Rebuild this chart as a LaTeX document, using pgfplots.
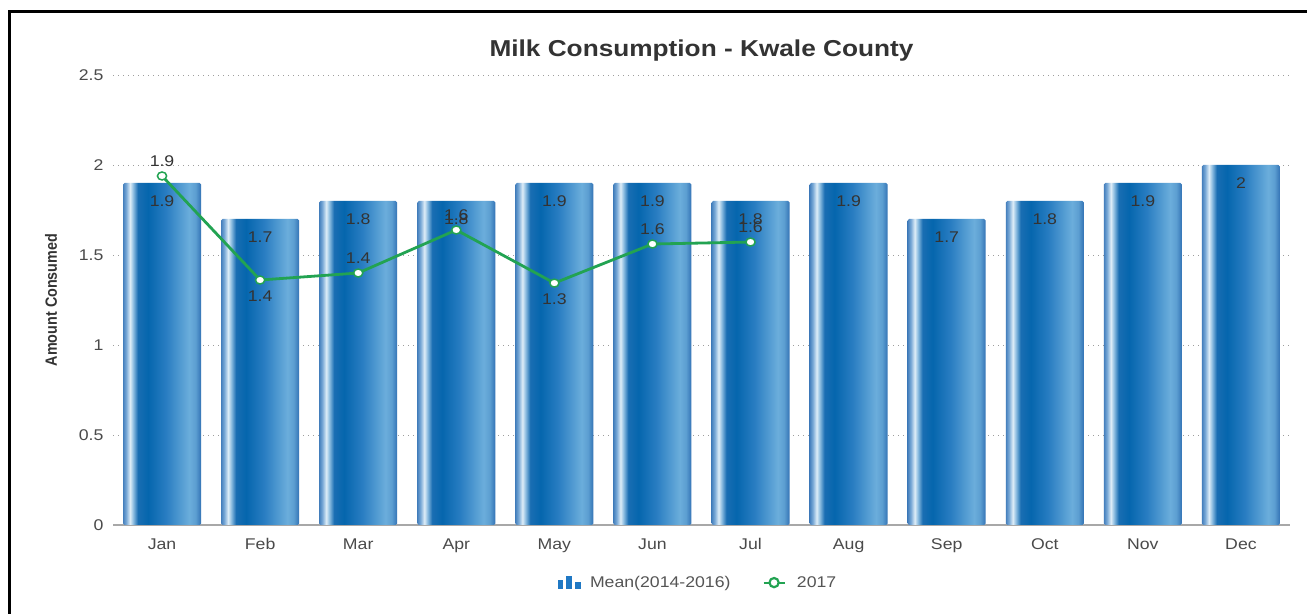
\documentclass[border=0pt]{standalone}
\usepackage{pgfplots}
\pgfplotsset{compat=1.18}
\usepackage{fontspec}
\setmainfont{Liberation Sans}[FakeStretch=1.14]
\newfontfamily\ylabfont{Liberation Sans}[FakeStretch=0.88]
\definecolor{gridgray}{HTML}{9E9E9E}
\definecolor{axisgray}{HTML}{A8A8A8}
\definecolor{ticktext}{HTML}{4A4A4A}
\definecolor{lbltext}{HTML}{333333}
\definecolor{legtext}{HTML}{555555}
\definecolor{linegreen}{HTML}{22A352}
\definecolor{legblue}{HTML}{1F78C4}
\pgfdeclarehorizontalshading{barshade}{100bp}{%
 rgb(0bp)=(0.27,0.50,0.74);
 rgb(25bp)=(0.27,0.50,0.74);
 rgb(27bp)=(0.47,0.66,0.84);
 rgb(29.5bp)=(0.87,0.93,0.97);
 rgb(31.5bp)=(0.55,0.74,0.88);
 rgb(34.5bp)=(0.10,0.43,0.70);
 rgb(41bp)=(0.02,0.40,0.68);
 rgb(52.5bp)=(0.16,0.49,0.76);
 rgb(67.5bp)=(0.42,0.68,0.86);
 rgb(71.5bp)=(0.36,0.62,0.82);
 rgb(75bp)=(0.20,0.45,0.71);
 rgb(100bp)=(0.20,0.45,0.71)}
\newcommand\tickfont{\fontsize{15.5bp}{18bp}\selectfont}
\pgfplotsset{meanbar/.style={ybar, bar width=78bp, draw=none, shade, shading=barshade,
  forget plot, rounded corners=1.5bp,
  nodes near coords, point meta=explicit symbolic,
  every node near coord/.append style={anchor=center, yshift=-18bp, font=\tickfont, text=lbltext}}}
\begin{document}
\begin{tikzpicture}
\path[use as bounding box] (0,0) rectangle (1307bp,614bp);
\fill[white] (0,0) rectangle (1307bp,614bp);
\draw[black, line width=3bp] (9bp,0bp) -- (9bp,602bp) -- (1307bp,602bp);
\begin{axis}[
  at={(113bp,89bp)}, anchor=south west,
  scale only axis, width=1177bp, height=450bp,
  xmin=-0.5, xmax=11.5, ymin=0, ymax=2.5,
  xtick={0,1,2,3,4,5,6,7,8,9,10,11},
  xticklabels={Jan,Feb,Mar,Apr,May,Jun,Jul,Aug,Sep,Oct,Nov,Dec},
  ytick={0,0.5,1,1.5,2,2.5},
  yticklabels={0,0.5,1,1.5,2,2.5},
  /pgf/number format/assume math mode=true,
  axis x line*=bottom, axis y line*=left,
  x axis line style={axisgray, line width=1.2bp},
  y axis line style={draw=none},
  major tick length=0pt,
  ymajorgrids,
  major grid style={gridgray, line width=0.9bp, dash pattern=on 1.1bp off 3.9bp},
  ticklabel style={font=\tickfont, text=ticktext},
  yticklabel style={xshift=-6bp},
  xticklabel style={yshift=-10bp},
  title={Milk Consumption - Kwale County},
  title style={font=\fontsize{23bp}{26bp}\selectfont\bfseries, text=lbltext, anchor=base, at={(0.5,1)}, yshift=13bp},
  ylabel={Amount Consumed},
  ylabel style={font=\ylabfont\fontsize{16.3bp}{18bp}\selectfont\bfseries, text=lbltext, at={(axis description cs:-0.0476,0.5)}, anchor=base},
  legend style={at={(0.497,-0.128)}, anchor=center, draw=none, fill=none,
    legend columns=2, font=\tickfont, text=legtext,
    /tikz/every even column/.append style={column sep=30bp}},
  legend cell align=left,
]
\addplot[meanbar] coordinates {(0,1.9)[1.9]};
\addplot[meanbar] coordinates {(1,1.7)[1.7]};
\addplot[meanbar] coordinates {(2,1.8)[1.8]};
\addplot[meanbar] coordinates {(3,1.8)[1.8]};
\addplot[meanbar] coordinates {(4,1.9)[1.9]};
\addplot[meanbar] coordinates {(5,1.9)[1.9]};
\addplot[meanbar] coordinates {(6,1.8)[1.8]};
\addplot[meanbar] coordinates {(7,1.9)[1.9]};
\addplot[meanbar] coordinates {(8,1.7)[1.7]};
\addplot[meanbar] coordinates {(9,1.8)[1.8]};
\addplot[meanbar] coordinates {(10,1.9)[1.9]};
\addplot[meanbar] coordinates {(11,2.0)[2]};
\addlegendimage{legend image code/.code={
    \fill[legblue] (0bp,-6bp) rectangle (4.5bp,2bp);
    \fill[legblue] (8.5bp,-6bp) rectangle (13bp,6.5bp);
    \fill[legblue] (17bp,-6bp) rectangle (22bp,0bp);
    \path (30bp,0bp);
  }}
\addlegendentry{Mean(2014-2016)}
\addplot[linegreen, line width=2.8bp, mark=*, mark size=4bp,
  mark options={fill=white, draw=linegreen, line width=1.5bp, xscale=1.15},
  legend image code/.code={
    \draw[linegreen, line width=2.2bp] (0bp,0bp) -- (21bp,0bp);
    \draw[linegreen, fill=white, line width=2.2bp] (10.5bp,0bp) circle (4.6bp);
    \path (30bp,0bp);
  }]
coordinates {
 (0,1.939) (1,1.361) (2,1.40) (3,1.639) (4,1.344) (5,1.561) (6,1.572)
};
\addlegendentry{2017}
\addplot[draw=none, mark=none, forget plot, nodes near coords, point meta=explicit symbolic,
  every node near coord/.append style={anchor=center, yshift=15bp, font=\tickfont, text=lbltext}]
coordinates {(0,1.939)[1.9] (2,1.40)[1.4] (3,1.639)[1.6] (5,1.561)[1.6] (6,1.572)[1.6]};
\addplot[draw=none, mark=none, forget plot, nodes near coords, point meta=explicit symbolic,
  every node near coord/.append style={anchor=center, yshift=-16bp, font=\tickfont, text=lbltext}]
coordinates {(1,1.361)[1.4] (4,1.344)[1.3]};
\end{axis}
\end{tikzpicture}
\end{document}
